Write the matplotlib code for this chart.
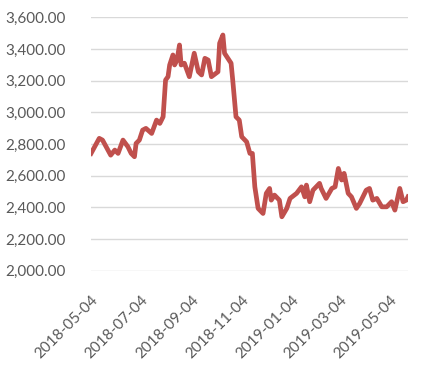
import matplotlib
matplotlib.use("Agg")
import matplotlib.pyplot as plt
import matplotlib.dates as mdates
import matplotlib.ticker as mticker
import pandas as pd

dates = [
    "2018-05-04", "2018-05-14", "2018-05-18", "2018-05-28", "2018-06-02", "2018-06-06",
    "2018-06-12", "2018-06-18", "2018-06-22", "2018-06-26", "2018-06-28", "2018-07-02",
    "2018-07-06", "2018-07-10", "2018-07-17", "2018-07-23", "2018-07-27", "2018-07-31",
    "2018-08-03", "2018-08-06", "2018-08-08", "2018-08-12", "2018-08-14", "2018-08-17",
    "2018-08-20", "2018-08-22", "2018-08-26", "2018-09-01", "2018-09-07", "2018-09-12",
    "2018-09-16", "2018-09-20", "2018-09-24", "2018-09-28", "2018-10-06", "2018-10-08",
    "2018-10-12", "2018-10-14", "2018-10-22", "2018-10-24", "2018-10-28", "2018-11-01",
    "2018-11-04", "2018-11-10", "2018-11-14", "2018-11-17", "2018-11-20", "2018-11-24",
    "2018-11-30", "2018-12-04", "2018-12-08", "2018-12-10", "2018-12-14", "2018-12-20",
    "2018-12-23", "2018-12-29", "2019-01-02", "2019-01-10", "2019-01-16", "2019-01-20",
    "2019-01-22", "2019-01-26", "2019-01-30", "2019-02-07", "2019-02-09", "2019-02-15",
    "2019-02-22", "2019-02-26", "2019-03-02", "2019-03-06", "2019-03-09", "2019-03-14",
    "2019-03-18", "2019-03-24", "2019-03-28", "2019-04-05", "2019-04-09", "2019-04-13",
    "2019-04-18", "2019-04-24", "2019-04-30", "2019-05-06", "2019-05-10", "2019-05-16",
    "2019-05-20", "2019-05-24", "2019-05-26",
]
values = [
    2741, 2836, 2825, 2730, 2762, 2741,
    2825, 2783, 2741, 2720, 2804, 2825,
    2888, 2899, 2867, 2951, 2930, 2972,
    3204, 3225, 3299, 3362, 3299, 3330,
    3425, 3299, 3310, 3225, 3373, 3256,
    3236, 3341, 3330, 3225, 3256, 3436,
    3488, 3373, 3310, 3204, 2972, 2951,
    2846, 2814, 2741, 2741, 2530, 2394,
    2362, 2489, 2520, 2446, 2478, 2446,
    2341, 2394, 2457, 2489, 2530, 2467,
    2541, 2436, 2509, 2552, 2520, 2457,
    2520, 2530, 2646, 2573, 2615, 2489,
    2467, 2394, 2425, 2509, 2520, 2446,
    2457, 2404, 2404, 2436, 2383, 2520,
    2436, 2446, 2467,
]
tick_dates = ["2018-05-04", "2018-07-04", "2018-09-04", "2018-11-04",
              "2019-01-04", "2019-03-04", "2019-05-04"]

x = pd.to_datetime(dates)
ticks = pd.to_datetime(tick_dates)

plt.rcParams['font.family'] = ['Lato', 'DejaVu Sans']

fig = plt.figure(figsize=(4.42, 3.67), dpi=100)
ax = fig.add_axes([0.206, 0.262, 0.717, 0.691])

ax.plot(x, values, color='#C0504D', linewidth=3.4, solid_joinstyle='round')

ax.set_ylim(2000, 3600)
ax.yaxis.set_major_locator(mticker.MultipleLocator(200))
ax.yaxis.set_major_formatter(mticker.StrMethodFormatter('{x:,.2f}'))
ax.set_xlim(x[0], x[-1])
ax.set_xticks(ticks)
ax.xaxis.set_major_formatter(mdates.DateFormatter('%Y-%m-%d'))

ax.grid(axis='y', color='#D9D9D9', linewidth=1)
ax.set_axisbelow(True)
for s in ax.spines.values():
    s.set_visible(False)
ax.tick_params(length=0, colors='#595959', labelsize=11)
ax.tick_params(axis='y', pad=18)
ax.tick_params(axis='x', pad=16)
for lab in ax.get_xticklabels():
    lab.set_rotation(45)
    lab.set_ha('right')
    lab.set_rotation_mode('anchor')

fig.savefig('out.png', dpi=100)
